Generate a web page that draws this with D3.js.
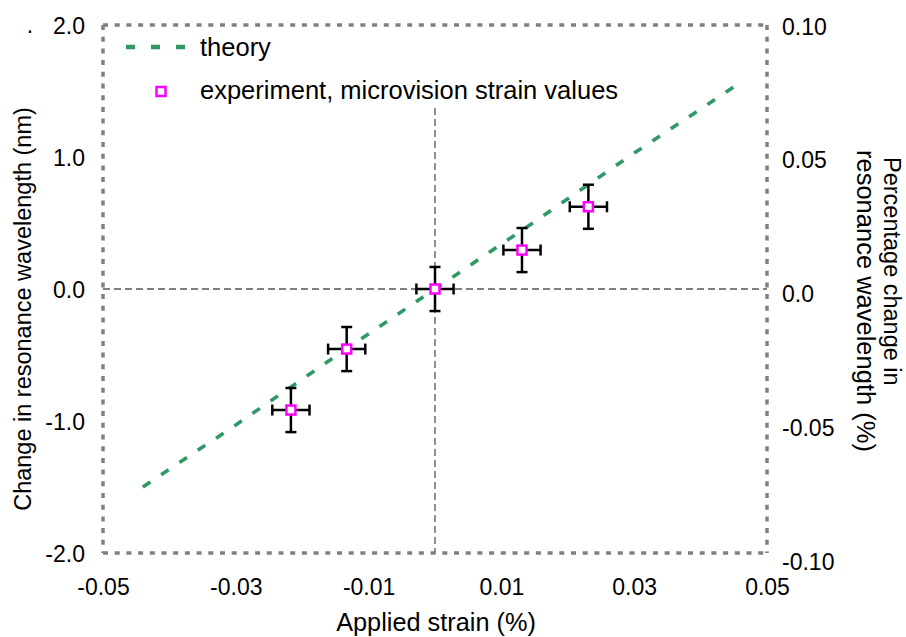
<!DOCTYPE html>
<html>
<head>
<meta charset="utf-8">
<script src="https://cdn.jsdelivr.net/npm/d3@7"></script>
<style>
  html, body { margin: 0; padding: 0; background: #fff; }
  svg { display: block; font-family: "Liberation Sans", Arial, sans-serif; }
</style>
</head>
<body>
<svg id="chart" width="906" height="637"></svg>
<script>
// Measured strain response of the resonance wavelength
const strainPct   = [-0.0217, -0.0133, 0.0, 0.0131, 0.0231];
const shiftNm     = [-0.917, -0.455, 0.0, 0.295, 0.623];
const strainErr   = [0.0028, 0.0028, 0.0028, 0.0028, 0.0028];
const shiftErr    = [0.167, 0.167, 0.167, 0.167, 0.167];

// Theory curve (strain %, shift nm)
const theoryStrain = [-0.044, -0.03, -0.015, 0.0, 0.015, 0.03, 0.045];
const theoryShift  = [-1.50, -1.03, -0.51, 0.0, 0.51, 1.03, 1.53];

// Axis ticks
const xTickValues = [-0.05, -0.03, -0.01, 0.01, 0.03, 0.05];
const xTickLabels = ["-0.05", "-0.03", "-0.01", "0.01", "0.03", "0.05"];
const yTickValues = [2, 1, 0, -1, -2];
const yTickLabels = ["2.0", "1.0", "0.0", "-1.0", "-2.0"];
const y2TickValues = [0.10, 0.05, 0.0, -0.05, -0.10];
const y2TickLabels = ["0.10", "0.05", "0.0", "-0.05", "-0.10"];

const legendLabels = ["theory", "experiment, microvision strain values"];

const svg = d3.select("#chart");
svg.append("rect").attr("width", 906).attr("height", 637).attr("fill", "#fff");

const plot = { left: 103, right: 767, top: 25, bottom: 553 };

const x = d3.scaleLinear().domain([-0.05, 0.05]).range([plot.left, plot.right]);
const y = d3.scaleLinear().domain([-2, 2]).range([plot.bottom, plot.top]);
const y2 = d3.scaleLinear().domain([-0.1, 0.1]).range([561, 26]);

const green = "#2f9965";
const magenta = "#ff00ff";
const tickFont = 23;

// Zero reference lines
svg.append("line")
  .attr("x1", plot.left).attr("x2", plot.right)
  .attr("y1", y(0)).attr("y2", y(0))
  .attr("stroke", "#555").attr("stroke-width", 1.3)
  .attr("stroke-dasharray", "7,4");
svg.append("line")
  .attr("x1", x(0)).attr("x2", x(0))
  .attr("y1", 108).attr("y2", plot.bottom)
  .attr("stroke", "#555").attr("stroke-width", 1.3)
  .attr("stroke-dasharray", "7,4");

// Dotted frame
const frame = svg.append("g")
  .attr("stroke", "#808080").attr("stroke-width", 3.5)
  .attr("stroke-dasharray", "5,6.7").attr("fill", "none");
frame.append("line").attr("x1", plot.left).attr("x2", plot.right).attr("y1", plot.top).attr("y2", plot.top);
frame.append("line").attr("x1", plot.left).attr("x2", plot.right).attr("y1", plot.bottom).attr("y2", plot.bottom);
frame.append("line").attr("x1", plot.left).attr("x2", plot.left).attr("y1", plot.top).attr("y2", plot.bottom);
frame.append("line").attr("x1", plot.right).attr("x2", plot.right).attr("y1", plot.top).attr("y2", plot.bottom);

// Axes (labels only, no tick marks)
const xAxis = d3.axisBottom(x).tickValues(xTickValues)
  .tickFormat((d, i) => xTickLabels[i]).tickSize(0).tickPadding(0);
const gx = svg.append("g").attr("transform", `translate(0,${plot.bottom})`).call(xAxis);
gx.select(".domain").remove();
gx.selectAll("text").attr("font-size", tickFont).attr("fill", "#000")
  .attr("font-family", "Liberation Sans, Arial, sans-serif")
  .attr("dy", null).attr("y", 42);

const yAxis = d3.axisLeft(y).tickValues(yTickValues)
  .tickFormat((d, i) => yTickLabels[i]).tickSize(0).tickPadding(0);
const gy = svg.append("g").attr("transform", `translate(85,0)`).call(yAxis);
gy.select(".domain").remove();
gy.selectAll("text").attr("font-size", tickFont).attr("fill", "#000")
  .attr("font-family", "Liberation Sans, Arial, sans-serif")
  .attr("dy", "0.35em");

const y2Axis = d3.axisRight(y2).tickValues(y2TickValues)
  .tickFormat((d, i) => y2TickLabels[i]).tickSize(0).tickPadding(0);
const gy2 = svg.append("g").attr("transform", `translate(782,0)`).call(y2Axis);
gy2.select(".domain").remove();
gy2.selectAll("text").attr("font-size", tickFont).attr("fill", "#000")
  .attr("font-family", "Liberation Sans, Arial, sans-serif")
  .attr("dy", "0.35em");

// Small mark left of the top label
svg.append("text").attr("x", 30).attr("y", 33).attr("font-size", tickFont)
  .attr("text-anchor", "middle").text(".");

// Axis titles
svg.append("text")
  .attr("x", 436).attr("y", 631).attr("text-anchor", "middle")
  .attr("font-size", 25.3).text("Applied strain (%)");

svg.append("text")
  .attr("transform", "translate(31,309) rotate(-90)")
  .attr("text-anchor", "middle").attr("font-size", 23.5)
  .text("Change in resonance wavelength (nm)");

svg.append("text")
  .attr("transform", "translate(884,157) rotate(90)")
  .attr("font-size", 23.5).text("Percentage change in");
svg.append("text")
  .attr("transform", "translate(857,150) rotate(90)")
  .attr("font-size", 25.5).text("resonance wavelength (%)");

// Theory line
const line = d3.line().x(d => x(d[0])).y(d => y(d[1]));
svg.append("path")
  .datum(d3.zip(theoryStrain, theoryShift))
  .attr("d", line)
  .attr("fill", "none").attr("stroke", green).attr("stroke-width", 3.6)
  .attr("stroke-dasharray", "9,13");

// Error bars and markers
const pts = strainPct.map((s, i) => ({ x: s, y: shiftNm[i], ex: strainErr[i], ey: shiftErr[i] }));
const cap = 5.5;
const eb = svg.append("g").attr("stroke", "#000").attr("stroke-width", 2.5).attr("fill", "none");
pts.forEach(p => {
  const cx = x(p.x), cy = y(p.y);
  const xl = x(p.x - p.ex), xr = x(p.x + p.ex);
  const yt = y(p.y + p.ey), yb = y(p.y - p.ey);
  eb.append("line").attr("x1", xl).attr("x2", xr).attr("y1", cy).attr("y2", cy);
  eb.append("line").attr("x1", cx).attr("x2", cx).attr("y1", yt).attr("y2", yb);
  eb.append("line").attr("x1", xl).attr("x2", xl).attr("y1", cy - cap).attr("y2", cy + cap);
  eb.append("line").attr("x1", xr).attr("x2", xr).attr("y1", cy - cap).attr("y2", cy + cap);
  eb.append("line").attr("x1", cx - cap).attr("x2", cx + cap).attr("y1", yt).attr("y2", yt);
  eb.append("line").attr("x1", cx - cap).attr("x2", cx + cap).attr("y1", yb).attr("y2", yb);
});
svg.append("g").selectAll("rect").data(pts).join("rect")
  .attr("x", d => x(d.x) - 4.5).attr("y", d => y(d.y) - 4.5)
  .attr("width", 9).attr("height", 9)
  .attr("fill", "#fff").attr("stroke", magenta).attr("stroke-width", 2.5);

// Legend
const lg = svg.append("g");
lg.append("line").attr("x1", 126).attr("x2", 186).attr("y1", 47).attr("y2", 47)
  .attr("stroke", green).attr("stroke-width", 4.5).attr("stroke-dasharray", "9,16");
lg.append("text").attr("x", 200).attr("y", 56).attr("font-size", 25.5).text(legendLabels[0]);
lg.append("rect").attr("x", 156.5).attr("y", 87).attr("width", 9).attr("height", 9)
  .attr("fill", "#fff").attr("stroke", magenta).attr("stroke-width", 2.5);
lg.append("text").attr("x", 200).attr("y", 99).attr("font-size", 25.5).text(legendLabels[1]);
</script>
</body>
</html>
